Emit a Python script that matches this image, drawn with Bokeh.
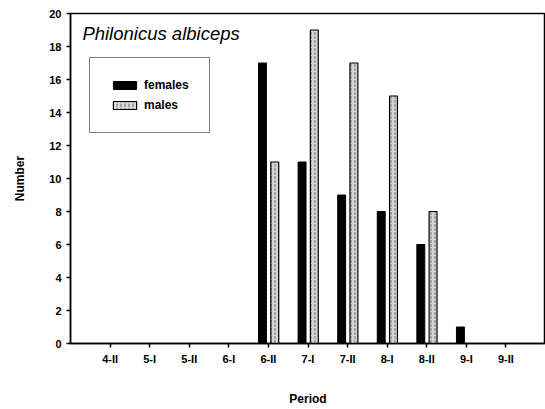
from bokeh.plotting import figure
from bokeh.models import Range1d, FixedTicker, Legend, LegendItem, Label, ColumnDataSource
from bokeh.transform import dodge
from bokeh.embed import file_html
from bokeh.resources import INLINE

categories = ["4-II", "5-I", "5-II", "6-I", "6-II", "7-I", "7-II", "8-I", "8-II", "9-I", "9-II"]
females = [0, 0, 0, 0, 17, 11, 9, 8, 6, 1, 0]
males = [0, 0, 0, 0, 11, 19, 17, 15, 8, 0, 0]
y_ticks = [0, 2, 4, 6, 8, 10, 12, 14, 16, 18, 20]

xs = list(range(1, len(categories) + 1))
src = ColumnDataSource(dict(x=xs, females=females, males=males))

FONT = "Liberation Sans"

p = figure(width=545, height=409, output_backend="svg", toolbar_location=None,
           x_range=Range1d(0, len(categories) + 1), y_range=Range1d(0, 20),
           min_border_left=70, min_border_right=0, min_border_top=13, min_border_bottom=66)
p.background_fill_color = "white"
p.border_fill_color = "white"
p.outline_line_color = "black"
p.outline_line_width = 1.5
p.xgrid.visible = False
p.ygrid.visible = False

f = p.vbar(x=dodge("x", -0.15, range=p.x_range), top="females", width=0.2, source=src,
           fill_color="black", line_color="black")
m = p.vbar(x=dodge("x", 0.16, range=p.x_range), top="males", width=0.2, source=src,
           fill_color="#d4d4d4", line_color="black", line_width=1.2,
           hatch_pattern=":", hatch_color="#777777", hatch_scale=4, hatch_weight=1)

p.xaxis.ticker = FixedTicker(ticks=xs)
p.xaxis.major_label_overrides = {x: c for x, c in zip(xs, categories)}
p.yaxis.ticker = FixedTicker(ticks=y_ticks)
for ax in (p.xaxis[0], p.yaxis[0]):
    ax.axis_line_color = "black"
    ax.axis_line_width = 1.5
    ax.major_tick_line_color = "black"
    ax.major_tick_line_width = 1.5
    ax.major_tick_in = 0
    ax.major_tick_out = 4
    ax.minor_tick_line_color = None
    ax.major_label_text_font = FONT
    ax.major_label_text_font_style = "bold"
    ax.major_label_text_font_size = "11px"
    ax.major_label_text_color = "black"
    ax.axis_label_text_font = FONT
    ax.axis_label_text_font_style = "bold"
    ax.axis_label_text_font_size = "12px"
    ax.axis_label_text_color = "black"

p.xaxis.axis_label = "Period"
p.xaxis.major_label_standoff = 5
p.xaxis.axis_label_standoff = 24
p.yaxis.axis_label = "Number"
p.yaxis.major_label_standoff = 5
p.yaxis.axis_label_standoff = 19

p.add_layout(Label(x=0.3, y=18.8, text="Philonicus albiceps", text_font=FONT,
                   text_font_style="italic", text_font_size="18.5px", text_color="black",
                   text_baseline="middle"))

legend = Legend(items=[LegendItem(label="females", renderers=[f]),
                       LegendItem(label="males", renderers=[m])],
                location=(19, 330 - 50 - 70), padding=20, spacing=6, margin=0,
                glyph_width=29, glyph_height=10, label_height=12, label_standoff=5,
                label_text_font=FONT, label_text_font_style="bold",
                label_text_font_size="12px", label_text_color="black",
                border_line_color="black", border_line_width=1.5,
                background_fill_color="white", background_fill_alpha=1)
p.add_layout(legend)

open("out.html", "w").write(file_html(p, INLINE))
